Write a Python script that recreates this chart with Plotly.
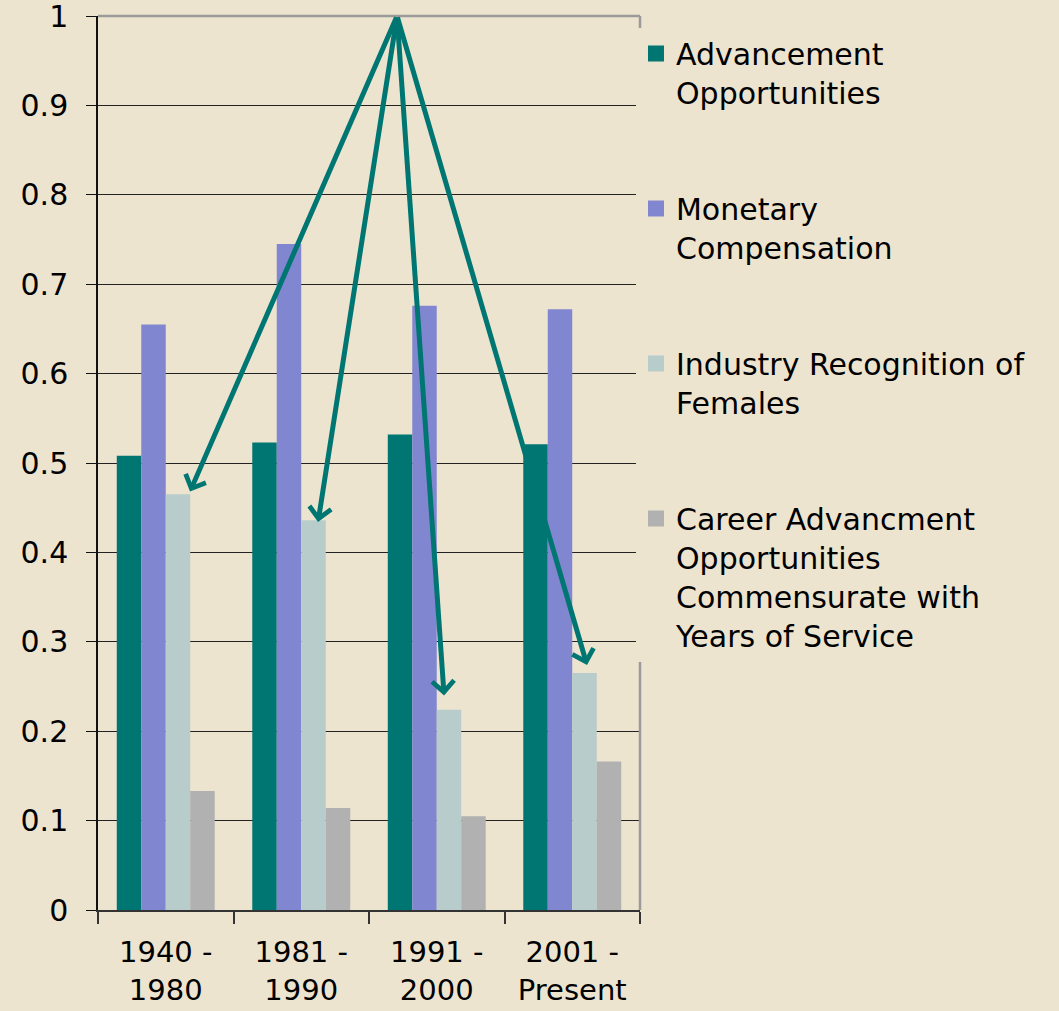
import plotly.graph_objects as go

categories = ["1940 -<br>1980", "1981 -<br>1990", "1991 -<br>2000", "2001 -<br>Present"]
series_names = [
    "Advancement<br>Opportunities",
    "Monetary<br>Compensation",
    "Industry Recognition of<br>Females",
    "Career Advancment<br>Opportunities<br>Commensurate with<br>Years of Service",
]
advancement = [0.508, 0.523, 0.532, 0.521]
monetary = [0.655, 0.745, 0.676, 0.672]
industry_recognition = [0.465, 0.436, 0.224, 0.265]
career_service = [0.133, 0.114, 0.105, 0.166]
colors = ["#007672", "#8186D0", "#B8CCCB", "#B1B1B1"]
y_ticks = [0, 0.1, 0.2, 0.3, 0.4, 0.5, 0.6, 0.7, 0.8, 0.9, 1]
y_tick_labels = ["0", "0.1", "0.2", "0.3", "0.4", "0.5", "0.6", "0.7", "0.8", "0.9", "1"]

# arrow annotation anchors (tail shared, heads near the "Industry Recognition" bars)
arrow_tail = (1.707, 1.0)
arrow_head_dx = [0.179, 0.124, 0.054, 0.109]
arrow_head_dy = [0.003, -0.002, 0.016, 0.009]

BG = "#EDE4D0"
FONT = "DejaVu Sans"

fig = go.Figure()
all_series = [advancement, monetary, industry_recognition, career_service]
for name, vals, col in zip(series_names, all_series, colors):
    fig.add_trace(go.Bar(
        x=categories, y=vals, name=name, showlegend=False,
        marker=dict(color=col, line=dict(width=0)),
    ))
    # legend-only proxy with a larger square symbol
    fig.add_trace(go.Scatter(
        x=[None], y=[None], mode="markers", name=name, legendgroup=name,
        marker=dict(symbol="square", size=16, color=col),
    ))

for i, (dx, dy) in enumerate(zip(arrow_head_dx, arrow_head_dy)):
    fig.add_annotation(
        x=i + dx, y=industry_recognition[i] + dy, xref="x", yref="y",
        ax=arrow_tail[0], ay=arrow_tail[1], axref="x", ayref="y",
        text="", showarrow=True, arrowhead=4, arrowsize=0.85, arrowwidth=5,
        arrowcolor="#007672", standoff=0, startstandoff=0,
    )

# gray frame on top and right (right side partially hidden behind the legend)
fig.add_shape(type="line", xref="paper", yref="paper", x0=0, x1=1, y0=1, y1=1,
              line=dict(color="#9A9A9A", width=2.5), layer="above")
fig.add_shape(type="line", xref="paper", yref="paper", x0=1, x1=1, y0=1, y1=0.973,
              line=dict(color="#9A9A9A", width=2.5), layer="above")
fig.add_shape(type="line", xref="paper", yref="paper", x0=1, x1=1, y0=0.288, y1=0,
              line=dict(color="#9A9A9A", width=2.5), layer="above")

fig.update_layout(
    width=1059, height=1011,
    margin=dict(l=98, r=419, t=16, b=101, pad=0, autoexpand=False),
    paper_bgcolor=BG, plot_bgcolor=BG,
    font=dict(family=FONT, size=30, color="#000000"),
    barmode="group", bargap=0.277, bargroupgap=0,
    legend=dict(
        x=0.9926, y=0.987, xanchor="left", yanchor="top",
        bgcolor=BG, borderwidth=0, valign="top",
        font=dict(family=FONT, size=30, color="#000000"),
        tracegroupgap=74, itemwidth=30,
    ),
    showlegend=True,
)
fig.update_xaxes(
    type="category", showgrid=False, showline=True, linecolor="#333333", linewidth=2,
    ticks="outside", tickson="boundaries", ticklen=12, tickcolor="#333333", tickwidth=1.5,
    tickfont=dict(size=29), ticklabelstandoff=15, zeroline=False, tickangle=0,
    automargin=False, ticklabeloverflow="allow",
)
fig.update_yaxes(
    range=[0, 1], tickmode="array", tickvals=y_ticks, ticktext=y_tick_labels,
    showgrid=True, gridcolor="#222222", gridwidth=1.3,
    showline=True, linecolor="#111111", linewidth=1.5,
    ticks="outside", ticklen=10, tickcolor="#111111", tickwidth=1.3,
    tickfont=dict(size=30), ticklabelstandoff=12, zeroline=False, automargin=False,
    ticklabeloverflow="allow",
)

fig.write_html(
    "out.html",
    config={"displayModeBar": False},
    post_script="document.body.style.margin='0';document.body.style.padding='0';",
)
